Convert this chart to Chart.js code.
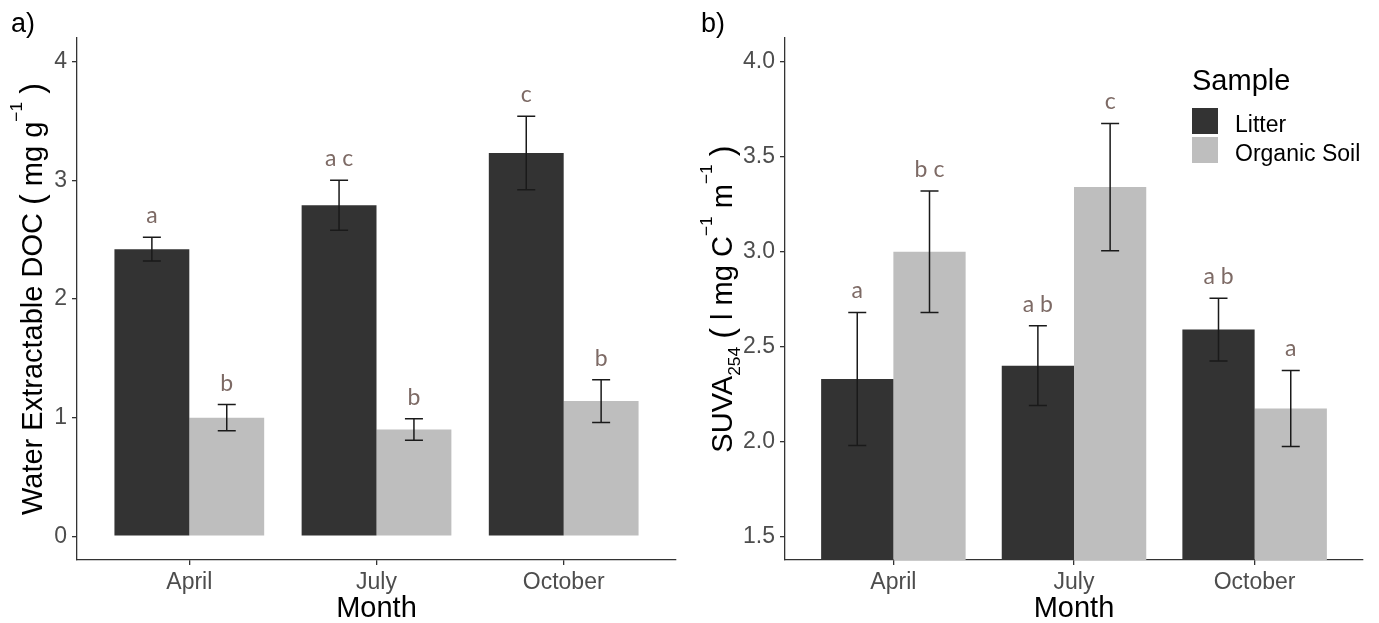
<!DOCTYPE html>
<html>
<head>
<meta charset="utf-8">
<script src="https://cdn.jsdelivr.net/npm/chart.js@4.4.1/dist/chart.umd.min.js"></script>
<style>
  html, body { margin: 0; padding: 0; background: #fff; }
  #wrap { position: relative; width: 1379px; height: 623px; }
  canvas { position: absolute; top: 0; }
</style>
</head>
<body>
<div id="wrap">
  <canvas id="chartA" width="690" height="623" style="left:0"></canvas>
  <canvas id="chartB" width="689" height="623" style="left:690px"></canvas>
</div>
<script>
const months = ['April', 'July', 'October'];
const monthPos = [1, 2, 3];

// a) water extractable DOC (mg g-1), mean and error
const docLitter = [2.42, 2.79, 3.23];
const docLitterSe = [0.10, 0.21, 0.31];
const docSoil = [1.00, 0.90, 1.14];
const docSoilSe = [0.11, 0.09, 0.18];
const docLitterLetters = ['a', 'a c', 'c'];
const docSoilLetters = ['b', 'b', 'b'];
const docTicks = [0, 1, 2, 3, 4];

// b) SUVA254
const suvaLitter = [2.33, 2.40, 2.59];
const suvaLitterSe = [0.35, 0.21, 0.165];
const suvaSoil = [3.00, 3.34, 2.175];
const suvaSoilSe = [0.32, 0.335, 0.20];
const suvaLitterLetters = ['a', 'a b', 'a b'];
const suvaSoilLetters = ['b c', 'c', 'a'];
const suvaTicks = [1.5, 2.0, 2.5, 3.0, 3.5, 4.0];

const FONT = "'Liberation Sans', Arial, sans-serif";
Chart.defaults.font.family = FONT;

// error bars + letters above them
const errorBars = {
  id: 'errorBars',
  afterDatasetsDraw(chart) {
    const ctx = chart.ctx;
    const y = chart.scales.y;
    chart.data.datasets.forEach((ds, d) => {
      chart.getDatasetMeta(d).data.forEach((bar, i) => {
        const v = ds.data[i].y;
        const top = y.getPixelForValue(v + ds.se[i]);
        const bot = y.getPixelForValue(v - ds.se[i]);
        ctx.save();
        ctx.strokeStyle = '#1a1a1a';
        ctx.lineWidth = 1.5;
        ctx.beginPath();
        ctx.moveTo(bar.x, top); ctx.lineTo(bar.x, bot);
        ctx.moveTo(bar.x - 9, top); ctx.lineTo(bar.x + 9, top);
        ctx.moveTo(bar.x - 9, bot); ctx.lineTo(bar.x + 9, bot);
        ctx.stroke();
        ctx.fillStyle = '#7d6a65';
        ctx.font = '23px Lato, sans-serif';
        ctx.textAlign = 'center';
        ctx.textBaseline = 'alphabetic';
        ctx.fillText(ds.letters[i], bar.x, top - 14);
        ctx.restore();
      });
    });
  }
};

// rotated y title with super/subscripts, plus the panel tag
const yTitle = {
  id: 'yTitle',
  afterDraw(chart, args, opts) {
    const ctx = chart.ctx;
    const base = 29;
    const area = chart.chartArea;
    ctx.save();
    ctx.fillStyle = '#000';
    ctx.textBaseline = 'alphabetic';
    ctx.textAlign = 'left';
    let total = 0;
    const parts = opts.parts.map(p => {
      const size = base * (p.s || 1);
      ctx.font = (p.light ? '300 ' : '') + size + 'px ' + FONT;
      const w = ctx.measureText(p.t).width;
      total += w;
      return { t: p.t, dy: p.dy || 0, size, w, light: p.light };
    });
    ctx.translate(opts.x, (area.top + area.bottom) / 2);
    ctx.rotate(-Math.PI / 2);
    let x = -total / 2;
    parts.forEach(p => {
      ctx.font = (p.light ? '300 ' : '') + p.size + 'px ' + FONT;
      ctx.fillText(p.t, x, p.dy * base);
      x += p.w;
    });
    ctx.restore();

    ctx.save();
    ctx.fillStyle = '#000';
    ctx.font = '27px ' + FONT;
    ctx.textBaseline = 'alphabetic';
    ctx.fillText(opts.tag, opts.tagX, 32);
    ctx.restore();
  }
};

const legendB = {
  id: 'legendB',
  afterDraw(chart) {
    const ctx = chart.ctx;
    ctx.save();
    ctx.textBaseline = 'alphabetic';
    ctx.fillStyle = '#000';
    ctx.font = '29px ' + FONT;
    ctx.fillText('Sample', 502, 90);
    chart.data.datasets.forEach((ds, i) => {
      const top = 108 + i * 29;
      ctx.fillStyle = ds.backgroundColor;
      ctx.fillRect(502, top, 26, 26);
      ctx.fillStyle = '#000';
      ctx.font = '23px ' + FONT;
      ctx.fillText(ds.label, 545, top + 24);
    });
    ctx.restore();
  }
};

const axisLine = { display: true, color: '#333', width: 1.3 };
const tickMarks = { drawOnChartArea: false, drawTicks: true, tickLength: 5, color: '#333', lineWidth: 1.3, offset: false };

function barChart(id, o) {
  const series = (vals) => monthPos.map((x, i) => ({ x, y: vals[i] }));
  return new Chart(document.getElementById(id), {
    type: 'bar',
    data: {
      datasets: [
        {
          label: 'Litter', data: series(o.litter), se: o.litterSe, letters: o.litterLetters,
          backgroundColor: '#333333', borderWidth: 0, categoryPercentage: 0.8, barPercentage: 1.0, clip: 0
        },
        {
          label: 'Organic Soil', data: series(o.soil), se: o.soilSe, letters: o.soilLetters,
          backgroundColor: '#bebebe', borderWidth: 0, categoryPercentage: 0.8, barPercentage: 1.0, clip: 0
        }
      ]
    },
    options: {
      responsive: false,
      animation: false,
      events: [],
      layout: { padding: { left: 0, right: o.padRight, top: 38, bottom: 0 } },
      plugins: {
        legend: { display: false },
        tooltip: { enabled: false },
        yTitle: { parts: o.title, x: o.titleX, tag: o.tag, tagX: o.tagX }
      },
      scales: {
        x: {
          type: 'linear', min: 0.4, max: 3.6, offset: false,
          afterBuildTicks: s => { s.ticks = monthPos.map(v => ({ value: v })); },
          afterFit: s => { s.height = 63; s.paddingLeft = 0; s.paddingRight = 0; },
          ticks: { callback: v => months[v - 1], color: '#4d4d4d', font: { size: 23 }, padding: 4, maxRotation: 0, autoSkip: false },
          grid: tickMarks,
          border: axisLine,
          title: { display: true, text: 'Month', color: '#000', font: { size: 29 }, padding: { top: 0, bottom: -3 } }
        },
        y: {
          min: o.yMin, max: o.yMax,
          afterBuildTicks: s => { s.ticks = o.ticks.map(v => ({ value: v })); },
          afterFit: s => { s.width = o.yWidth; s.paddingTop = 0; s.paddingBottom = 0; },
          ticks: { callback: o.fmt, color: '#4d4d4d', font: { size: 23 }, padding: 5 },
          grid: tickMarks,
          border: axisLine
        }
      }
    },
    plugins: [errorBars, yTitle].concat(o.extra || [])
  });
}

const paren = (t) => ({ t, s: 1.12, dy: 0.03, light: true });
const sup = { t: '\u22121', s: 0.6, dy: -0.68 };

barChart('chartA', {
  litter: docLitter, litterSe: docLitterSe, litterLetters: docLitterLetters,
  soil: docSoil, soilSe: docSoilSe, soilLetters: docSoilLetters,
  ticks: docTicks, yMin: -0.2, yMax: 4.2, fmt: v => String(v),
  yWidth: 77, padRight: 14, tag: 'a)', tagX: 11, titleX: 42,
  title: [{ t: 'Water Extractable DOC ' }, paren('('), { t: ' mg g' }, sup, { t: ' ' }, paren(')')]
});

barChart('chartB', {
  litter: suvaLitter, litterSe: suvaLitterSe, litterLetters: suvaLitterLetters,
  soil: suvaSoil, soilSe: suvaSoilSe, soilLetters: suvaSoilLetters,
  ticks: suvaTicks, yMin: 1.377, yMax: 4.125, fmt: v => v.toFixed(1),
  yWidth: 95, padRight: 16, tag: 'b)', tagX: 11, titleX: 42,
  title: [{ t: 'SUVA' }, { t: '254', s: 0.6, dy: 0.28 }, { t: ' ' }, paren('('), { t: ' l mg C' }, sup, { t: ' m' }, sup, { t: ' ' }, paren(')')],
  extra: [legendB]
});
</script>
</body>
</html>
